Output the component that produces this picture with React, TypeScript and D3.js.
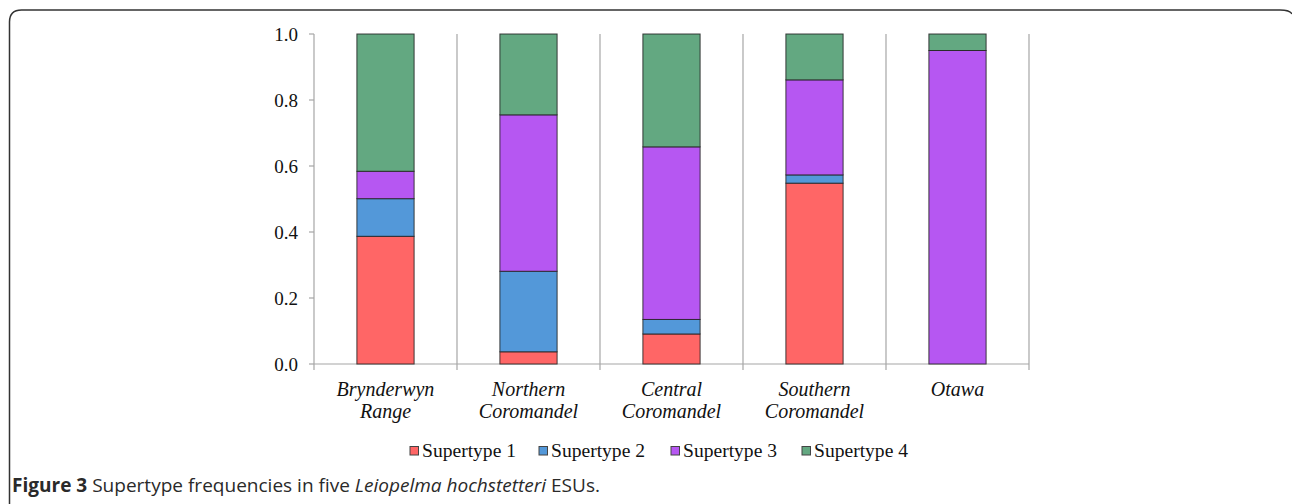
import React from "react";
import * as d3 from "d3";

const categories = [
  ["Brynderwyn", "Range"],
  ["Northern", "Coromandel"],
  ["Central", "Coromandel"],
  ["Southern", "Coromandel"],
  ["Otawa"],
];
const seriesNames = ["Supertype 1", "Supertype 2", "Supertype 3", "Supertype 4"];
const supertype1 = [0.387, 0.037, 0.091, 0.548, 0];
const supertype2 = [0.114, 0.244, 0.044, 0.025, 0];
const supertype3 = [0.083, 0.474, 0.523, 0.288, 0.95];
const supertype4 = [0.416, 0.245, 0.342, 0.139, 0.05];
const colors = ["#FF6666", "#5398D9", "#B657F2", "#63A881"];
const yTicks = [0, 0.2, 0.4, 0.6, 0.8, 1.0];

export default function App() {
  const W = 1292, H = 504;
  const left = 314, right = 1029, top = 34, bottom = 364;
  const keys = categories.map((c) => c.join(" "));
  const rows = keys.map((k, i) => ({
    key: k,
    "Supertype 1": supertype1[i],
    "Supertype 2": supertype2[i],
    "Supertype 3": supertype3[i],
    "Supertype 4": supertype4[i],
  }));
  const stacked = d3.stack<any>().keys(seriesNames)(rows);
  const x = d3.scaleBand().domain(keys).range([left, right]).padding(0);
  const y = d3.scaleLinear().domain([0, 1]).range([bottom, top]);
  const bw = x.bandwidth() * 0.4;
  const axisColor = "#A6A6A6";
  const serif = "'Liberation Serif', 'Times New Roman', serif";
  const legendX = [410, 539, 671, 802];

  return (
    <svg width={W} height={H} style={{ position: "absolute", left: 0, top: 0, background: "#fff" }}>
      {/* frame */}
      <path
        d={`M 9.5 ${H + 5} L 9.5 22 Q 9.5 10 21.5 10 L 1280 10 Q 1290 10 1292 14`}
        fill="none"
        stroke="#333"
        strokeWidth={1.5}
      />
      {/* separators / gridlines */}
      {keys.map((k) => (
        <line key={k} x1={x(k)! + x.bandwidth()} x2={x(k)! + x.bandwidth()} y1={top} y2={bottom + 6} stroke={axisColor} strokeWidth={1.2} />
      ))}
      <line x1={left} x2={left} y1={top} y2={bottom + 6} stroke={axisColor} strokeWidth={1.2} />
      <line x1={left} x2={right} y1={bottom} y2={bottom} stroke={axisColor} strokeWidth={1.2} />
      {yTicks.map((t) => (
        <g key={t}>
          <line x1={left - 5} x2={left} y1={y(t)} y2={y(t)} stroke={axisColor} strokeWidth={1.2} />
          <text x={298} y={y(t) + 6.5} textAnchor="end" fontFamily={serif} fontSize={19} fill="#111">
            {t.toFixed(1)}
          </text>
        </g>
      ))}
      {/* bars */}
      {stacked.map((s, si) =>
        s.map((d, i) => {
          const h = y(d[0]) - y(d[1]);
          if (h <= 0) return null;
          return (
            <rect
              key={`${si}-${i}`}
              x={x(keys[i])! + (x.bandwidth() - bw) / 2}
              y={y(d[1])}
              width={bw}
              height={h}
              fill={colors[si]}
              stroke="#222"
              strokeOpacity={0.85}
              strokeWidth={1}
            />
          );
        })
      )}
      {/* x labels */}
      {categories.map((c, i) => (
        <text key={i} textAnchor="middle" fontFamily={serif} fontStyle="italic" fontSize={20} fill="#111">
          {c.map((line, li) => (
            <tspan key={li} x={x(keys[i])! + x.bandwidth() / 2} y={396 + li * 21.5}>
              {line}
            </tspan>
          ))}
        </text>
      ))}
      {/* legend */}
      {seriesNames.map((n, i) => (
        <g key={n}>
          <rect x={legendX[i]} y={446.5} width={8.5} height={8.5} fill={colors[i]} stroke="#444" strokeWidth={1} />
          <text x={legendX[i] + 12} y={457} fontFamily={serif} fontSize={19} fill="#111" textLength={94} lengthAdjust="spacingAndGlyphs">
            {n}
          </text>
        </g>
      ))}
      {/* caption */}
      <text x={12} y={492} fontFamily="'Open Sans', sans-serif" fontSize={19} fill="#2a2a2a" textLength={588} lengthAdjust="spacingAndGlyphs">
        <tspan fontWeight="bold">Figure 3</tspan>
        <tspan> Supertype frequencies in five </tspan>
        <tspan fontStyle="italic">Leiopelma hochstetteri</tspan>
        <tspan> ESUs.</tspan>
      </text>
    </svg>
  );
}
